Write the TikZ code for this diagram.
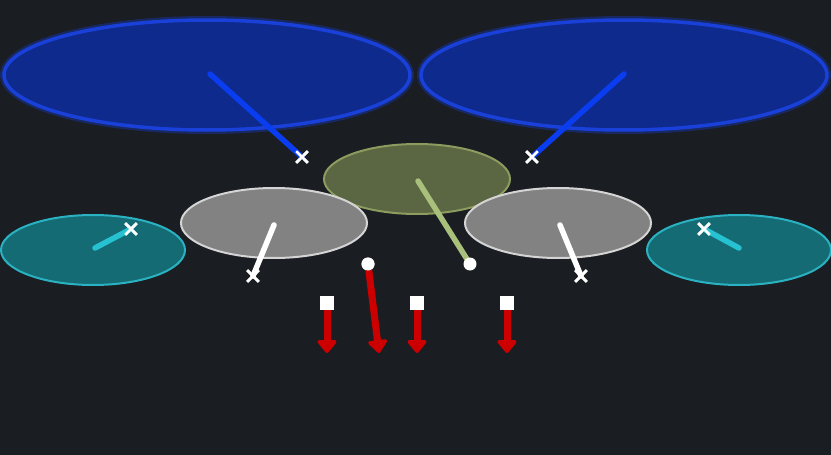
\documentclass[tikz,border=0pt]{standalone}
\usetikzlibrary{shapes.geometric,shapes.misc,arrows.meta}
\definecolor{bg}{HTML}{1A1D21}
\definecolor{bluefill}{HTML}{0E2A8C}
\definecolor{bluestroke}{HTML}{1A40DA}
\definecolor{blueglow}{HTML}{1636B0}
\definecolor{blueline}{HTML}{0A3CF0}
\definecolor{olivefill}{HTML}{5B6642}
\definecolor{olivestroke}{HTML}{8C9C5E}
\definecolor{oliveline}{HTML}{A9BF7C}
\definecolor{grayfill}{HTML}{828282}
\definecolor{graystroke}{HTML}{D4D4D4}
\definecolor{tealfill}{HTML}{146B73}
\definecolor{tealstroke}{HTML}{2AB2C2}
\definecolor{tealline}{HTML}{26C2D2}
\definecolor{redline}{HTML}{CC0000}
\tikzset{
  oval/.style={ellipse, inner sep=0pt, draw},
  bigblue/.style={oval, minimum width=406pt, minimum height=110pt, fill=bluefill, draw=bluestroke, line width=3.5pt},
  glow/.style={oval, minimum width=406pt, minimum height=110pt, draw=blueglow, draw opacity=0.45, line width=8pt},
  olive/.style={oval, minimum width=186pt, minimum height=70pt, fill=olivefill, draw=olivestroke, line width=2pt},
  grayov/.style={oval, minimum width=186pt, minimum height=70pt, fill=grayfill, draw=graystroke, line width=2pt},
  teal/.style={oval, minimum width=184pt, minimum height=70pt, fill=tealfill, draw=tealstroke, line width=2pt},
  xmark/.style={cross out, draw=white, line width=2.6pt, minimum size=9pt, inner sep=0pt},
  dotmark/.style={circle, fill=white, minimum size=13pt, inner sep=0pt},
  sqmark/.style={rectangle, fill=white, minimum size=14pt, inner sep=0pt},
  stick/.style={line width=5.5pt, line cap=round},
  redarrow/.style={draw=redline, line width=7pt, -{Triangle[width=22pt,length=14pt,round]}},
}
\begin{document}
\begin{tikzpicture}[x=1pt,y=-1pt]
\fill[bg] (0,0) rectangle (831,455);
\useasboundingbox (0,0) rectangle (831,455);
% blue ellipses
\node[glow] at (207,75) {};
\node[glow] at (624,75) {};
\node[bigblue] (bl) at (207,75) {};
\node[bigblue] (br) at (624,75) {};
% teal
\node[teal] (tl) at (93,250) {};
\node[teal] (tr) at (739,250) {};
% olive
\node[olive] (ol) at (417,179) {};
% gray
\node[grayov] (gl) at (274,223) {};
\node[grayov] (gr) at (558,223) {};
% markers
\node[xmark] (xbl) at (302,157) {};
\node[xmark] (xbr) at (532,157) {};
\node[xmark] (xgl) at (253,276) {};
\node[xmark] (xgr) at (581,276) {};
\node[xmark] (xtl) at (131,229) {};
\node[xmark] (xtr) at (704,229) {};
\coordinate (sbl) at (210,74);
\coordinate (sbr) at (624,74);
\coordinate (sol) at (418,181);
\coordinate (sgl) at (274,225);
\coordinate (sgr) at (560,225);
\coordinate (stl) at (95,248);
\coordinate (str) at (739,248);
\draw[stick, blueline] (sbl) -- (xbl.center);
\draw[stick, blueline] (sbr) -- (xbr.center);
\draw[stick, oliveline] (sol) -- (470,264);
\draw[stick, white] (sgl) -- (xgl.center);
\draw[stick, white] (sgr) -- (xgr.center);
\draw[stick, tealline] (stl) -- (xtl.center);
\draw[stick, tealline] (str) -- (xtr.center);
\node[xmark] at (xbl) {};
\node[xmark] at (xbr) {};
\node[xmark] at (xgl) {};
\node[xmark] at (xgr) {};
\node[xmark] at (xtl) {};
\node[xmark] at (xtr) {};
% red arrows
\coordinate (e1) at (327,353);
\coordinate (e2) at (379,353);
\coordinate (e3) at (417,353);
\coordinate (e4) at (507,353);
\node[sqmark] (s1) at (327,303) {};
\node[sqmark] (s3) at (417,303) {};
\node[sqmark] (s4) at (507,303) {};
\node[dotmark] (d1) at (368,264) {};
\draw[redarrow] (s1.south) -- (e1);
\draw[redarrow] (d1.center) -- (e2);
\draw[redarrow] (s3.south) -- (e3);
\draw[redarrow] (s4.south) -- (e4);
\node[dotmark] at (d1) {};
\node[dotmark] (d2) at (470,264) {};
\end{tikzpicture}
\end{document}
